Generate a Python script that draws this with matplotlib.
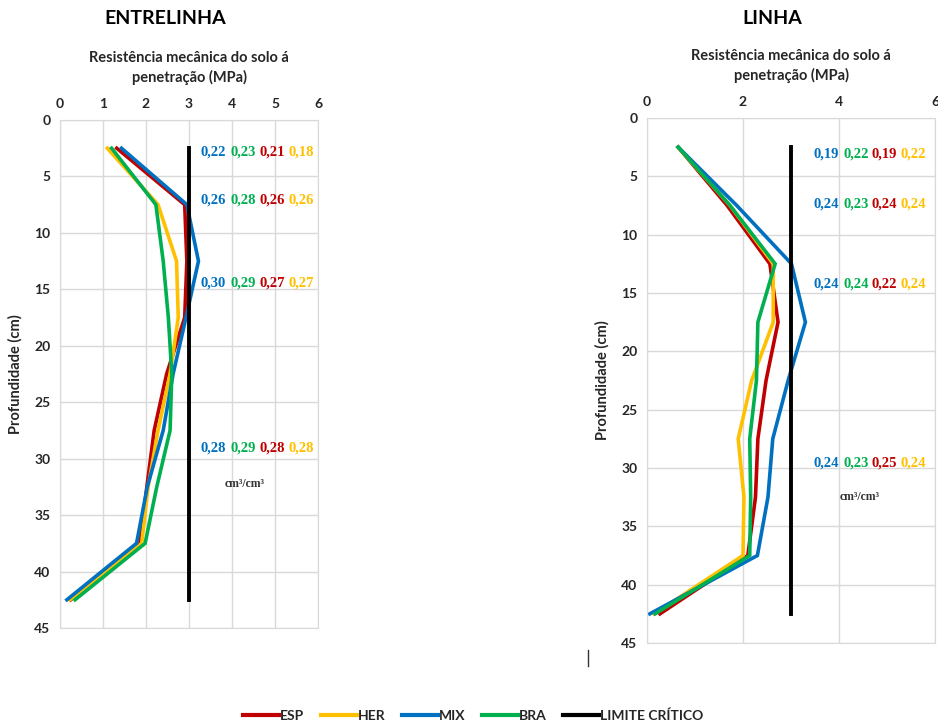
import numpy as np
import matplotlib
matplotlib.use('Agg')
import matplotlib.pyplot as plt
from matplotlib.lines import Line2D

plt.rcParams['font.family'] = ['Lato', 'DejaVu Sans']

# profundidade (cm)
depth = [2.5, 7.5, 12.5, 17.5, 22.5, 27.5, 32.5, 37.5, 42.5]

# ENTRELINHA (MPa)
ent_esp = [1.32, 2.90, 2.95, 2.90, 2.48, 2.19, 2.02, 1.86, 0.25]
ent_her = [1.10, 2.28, 2.71, 2.75, 2.56, 2.28, 2.05, 1.90, 0.23]
ent_mix = [1.43, 2.95, 3.22, 2.93, 2.63, 2.40, 2.03, 1.78, 0.16]
ent_bra = [1.20, 2.23, 2.40, 2.52, 2.60, 2.56, 2.25, 1.98, 0.35]

# LINHA (MPa)
lin_esp = [0.65, 1.67, 2.56, 2.73, 2.48, 2.31, 2.26, 2.10, 0.27]
lin_her = [0.65, 1.73, 2.63, 2.63, 2.18, 1.90, 2.02, 2.00, 0.15]
lin_mix = [0.65, 1.87, 3.01, 3.30, 2.94, 2.62, 2.52, 2.30, 0.06]
lin_bra = [0.65, 1.73, 2.67, 2.31, 2.28, 2.14, 2.16, 2.14, 0.17]

limite = 3.0
limite_depth = [2.5, 42.5]

# umidade (cm3/cm3) por camada: MIX, BRA, ESP, HER
ent_lab_depth = [2.8, 7.1, 14.4, 29.1]
ent_labels = [['0,22', '0,23', '0,21', '0,18'],
              ['0,26', '0,28', '0,26', '0,26'],
              ['0,30', '0,29', '0,27', '0,27'],
              ['0,28', '0,29', '0,28', '0,28']]
lin_lab_depth = [3.1, 7.4, 14.2, 29.6]
lin_labels = [['0,19', '0,22', '0,19', '0,22'],
              ['0,24', '0,23', '0,24', '0,24'],
              ['0,24', '0,24', '0,22', '0,24'],
              ['0,24', '0,23', '0,25', '0,24']]

series = ['ESP', 'HER', 'MIX', 'BRA']
colors = {'ESP': '#C00000', 'HER': '#FFC000', 'MIX': '#0070C0', 'BRA': '#00B050'}
lab_colors = [colors['MIX'], colors['BRA'], colors['ESP'], colors['HER']]

grid_c = '#D9D9D9'
txt_c = '#262626'

fig = plt.figure(figsize=(9.38, 7.27), dpi=100)
W, H = 938, 727


def px_axes(x0, y0, x1, y1):
    return fig.add_axes([x0 / W, 1 - y1 / H, (x1 - x0) / W, (y1 - y0) / H])


def draw(ax, data, xticks, lab_depth, labels, lab_x, unit_pos, title, title_x):
    for name, vals in zip(series, data):
        ax.plot(vals, depth, color=colors[name], lw=2.6, solid_joinstyle='miter')
    ax.plot([limite, limite], limite_depth, color='black', lw=2.8)
    ax.set_xlim(0, 6)
    ax.set_ylim(45, 0)
    ax.set_xticks(xticks)
    ax.set_yticks(range(0, 46, 5))
    ax.xaxis.tick_top()
    ax.xaxis.set_label_position('top')
    ax.tick_params(length=0, labelsize=10, colors=txt_c, pad=7)
    for lab in ax.get_xticklabels() + ax.get_yticklabels():
        lab.set_fontweight('bold')
    ax.grid(True, color=grid_c, lw=1)
    for sp in ax.spines.values():
        sp.set_color(grid_c)
    ax.set_xlabel('Resistência mecânica do solo á\npenetração (MPa)',
                  fontsize=10.5, fontweight='bold', color=txt_c, labelpad=12,
                  linespacing=1.35)
    ax.set_ylabel('Profundidade (cm)', fontsize=10.5, fontweight='bold',
                  color=txt_c, labelpad=8)
    for d, row in zip(lab_depth, labels):
        for x, s, c in zip(lab_x, row, lab_colors):
            ax.text(x, d, s, color=c, fontsize=10.5, fontweight='bold',
                    family='Liberation Serif', ha='center', va='center')
    ax.text(unit_pos[0], unit_pos[1], 'cm³/cm³', color='#333333', fontsize=8.5,
            fontweight='bold', family='Liberation Serif', ha='center', va='center')
    fig.text(title_x / W, 1 - 18 / H, title, fontsize=14, fontweight='bold',
             ha='center', va='center')


ax1 = px_axes(60, 120, 318, 628)
draw(ax1, [ent_esp, ent_her, ent_mix, ent_bra], range(0, 7),
     ent_lab_depth, ent_labels, [3.56, 4.26, 4.93, 5.6], (4.3, 32.2),
     'ENTRELINHA', 165)

ax2 = px_axes(647, 118, 935, 643)
draw(ax2, [lin_esp, lin_her, lin_mix, lin_bra], [0, 2, 4, 6],
     lin_lab_depth, lin_labels, [3.73, 4.35, 4.94, 5.54], (4.44, 32.5),
     'LINHA', 772)

handles = [Line2D([], [], color=colors[s], lw=3) for s in series]
handles.append(Line2D([], [], color='black', lw=3))
leg = fig.legend(handles, series + ['LIMITE CRÍTICO'], loc='center',
                 bbox_to_anchor=(473 / W, 1 - 716 / H), ncol=5, frameon=False,
                 fontsize=10, handlelength=2.6, handletextpad=0.05,
                 columnspacing=1.2)
for t in leg.get_texts():
    t.set_fontweight('bold')
    t.set_color(txt_c)

fig.add_artist(Line2D([588 / W, 588 / W], [1 - 650 / H, 1 - 666 / H],
                      color='#333333', lw=1))

fig.savefig('out.png', dpi=100)
